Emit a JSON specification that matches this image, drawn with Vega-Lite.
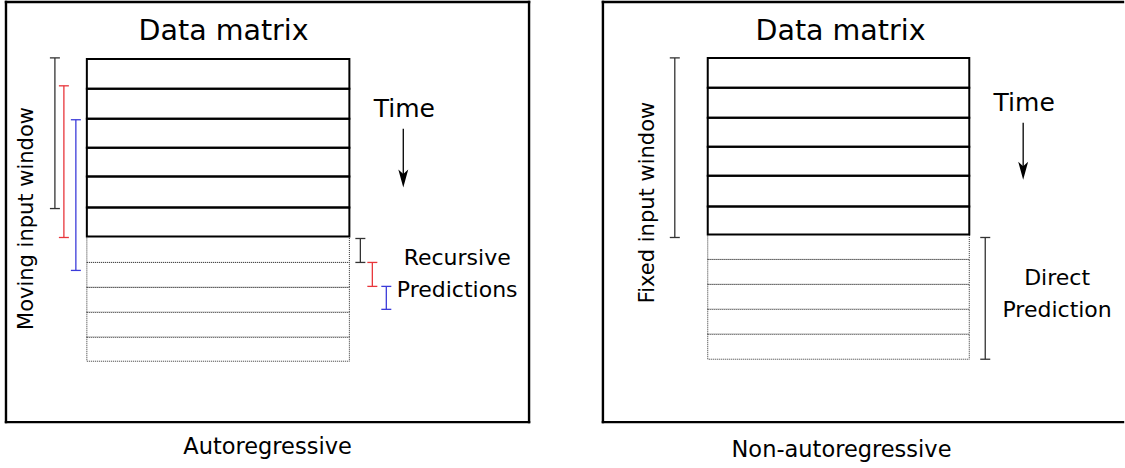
{
  "$schema": "https://vega.github.io/schema/vega-lite/v6.json",
  "width": 1125,
  "height": 468,
  "autosize": {"type": "fit", "contains": "padding"},
  "padding": 0,
  "background": "white",
  "config": {"view": {"stroke": null}, "text": {"font": "DejaVu Sans"}},
  "datasets": {
    "frameEdges": [
      {"x": 6, "x2": 530, "y": 1, "y2": 1},
      {"x": 6, "x2": 530, "y": 422, "y2": 422},
      {"x": 6, "x2": 6, "y": 1, "y2": 422},
      {"x": 530, "x2": 530, "y": 1, "y2": 422},
      {"x": 604, "x2": 1125, "y": 1, "y2": 1},
      {"x": 604, "x2": 1125, "y": 422, "y2": 422},
      {"x": 604, "x2": 604, "y": 1, "y2": 422}
    ],
    "solidRows": [
      {"x": 87, "x2": 350, "y": 58, "y2": 88},
      {"x": 87, "x2": 350, "y": 88, "y2": 118},
      {"x": 87, "x2": 350, "y": 118, "y2": 147},
      {"x": 87, "x2": 350, "y": 147, "y2": 176},
      {"x": 87, "x2": 350, "y": 176, "y2": 207},
      {"x": 87, "x2": 350, "y": 207, "y2": 236},
      {"x": 709, "x2": 971, "y": 57, "y2": 87},
      {"x": 709, "x2": 971, "y": 87, "y2": 117},
      {"x": 709, "x2": 971, "y": 117, "y2": 146},
      {"x": 709, "x2": 971, "y": 146, "y2": 175},
      {"x": 709, "x2": 971, "y": 175, "y2": 206},
      {"x": 709, "x2": 971, "y": 206, "y2": 234}
    ],
    "dottedRows": [
      {"x": 87, "x2": 350, "y": 236, "y2": 262},
      {"x": 87, "x2": 350, "y": 262, "y2": 287},
      {"x": 87, "x2": 350, "y": 287, "y2": 312},
      {"x": 87, "x2": 350, "y": 312, "y2": 337},
      {"x": 87, "x2": 350, "y": 337, "y2": 361},
      {"x": 709, "x2": 971, "y": 234, "y2": 259},
      {"x": 709, "x2": 971, "y": 259, "y2": 284},
      {"x": 709, "x2": 971, "y": 284, "y2": 309},
      {"x": 709, "x2": 971, "y": 309, "y2": 334},
      {"x": 709, "x2": 971, "y": 334, "y2": 359}
    ],
    "brackets": [
      {"x": 55, "y": 57, "y2": 208, "group": "black"},
      {"x": 64, "y": 85, "y2": 237, "group": "red"},
      {"x": 76, "y": 119, "y2": 270, "group": "blue"},
      {"x": 361, "y": 238, "y2": 262, "group": "black"},
      {"x": 373, "y": 262, "y2": 286, "group": "red"},
      {"x": 387, "y": 286, "y2": 309, "group": "blue"},
      {"x": 676, "y": 57, "y2": 237, "group": "black"},
      {"x": 987, "y": 237, "y2": 359, "group": "black"}
    ],
    "arrows": [
      {"x": 404, "y": 128, "y2": 180, "head": 178},
      {"x": 1025, "y": 122, "y2": 172, "head": 170}
    ],
    "titles": [
      {"x": 224, "y": 30, "label": "Data matrix"},
      {"x": 842, "y": 30, "label": "Data matrix"}
    ],
    "times": [
      {"x": 405, "y": 108, "label": "Time"},
      {"x": 1026, "y": 102, "label": "Time"}
    ],
    "labels": [
      {"x": 458, "y": 258, "label": "Recursive"},
      {"x": 458, "y": 290, "label": "Predictions"},
      {"x": 1059, "y": 278, "label": "Direct"},
      {"x": 1059, "y": 310, "label": "Prediction"}
    ],
    "vertical": [
      {"x": 27, "y": 218, "label": "Moving input window"},
      {"x": 649, "y": 202, "label": "Fixed input window"}
    ],
    "captions": [
      {"x": 268, "y": 447, "label": "Autoregressive"},
      {"x": 843, "y": 450, "label": "Non-autoregressive"}
    ]
  },
  "layer": [
    {
      "data": {"name": "frameEdges"},
      "mark": {"type": "rule", "stroke": "black", "strokeWidth": 2.4, "strokeCap": "square"},
      "encoding": {
        "x": {"field": "x", "type": "quantitative", "scale": {"domain": [0, 1125], "nice": false, "zero": false}, "axis": null},
        "x2": {"field": "x2"},
        "y": {"field": "y", "type": "quantitative", "scale": {"domain": [0, 468], "nice": false, "zero": false, "reverse": true}, "axis": null},
        "y2": {"field": "y2"}
      }
    },
    {
      "data": {"name": "dottedRows"},
      "mark": {"type": "rect", "fill": "white", "stroke": "#333333", "strokeWidth": 1, "strokeDash": [1, 1]},
      "encoding": {
        "x": {"field": "x", "type": "quantitative", "scale": {"domain": [0, 1125], "nice": false, "zero": false}, "axis": null},
        "x2": {"field": "x2"},
        "y": {"field": "y", "type": "quantitative", "scale": {"domain": [0, 468], "nice": false, "zero": false, "reverse": true}, "axis": null},
        "y2": {"field": "y2"}
      }
    },
    {
      "data": {"name": "solidRows"},
      "mark": {"type": "rect", "fill": null, "stroke": "black", "strokeWidth": 2},
      "encoding": {
        "x": {"field": "x", "type": "quantitative", "scale": {"domain": [0, 1125], "nice": false, "zero": false}, "axis": null},
        "x2": {"field": "x2"},
        "y": {"field": "y", "type": "quantitative", "scale": {"domain": [0, 468], "nice": false, "zero": false, "reverse": true}, "axis": null},
        "y2": {"field": "y2"}
      }
    },
    {
      "data": {"name": "brackets"},
      "mark": {"type": "rule", "strokeWidth": 1.3},
      "encoding": {
        "x": {"field": "x", "type": "quantitative", "scale": {"domain": [0, 1125], "nice": false, "zero": false}, "axis": null},
        "y": {"field": "y", "type": "quantitative", "scale": {"domain": [0, 468], "nice": false, "zero": false, "reverse": true}, "axis": null},
        "y2": {"field": "y2"},
        "color": {"field": "group", "type": "nominal", "scale": {"domain": ["black", "red", "blue"], "range": ["#333333", "#e8363b", "#3b3bd9"]}, "legend": null}
      }
    },
    {
      "data": {"name": "brackets"},
      "mark": {"type": "tick", "orient": "horizontal", "size": 10, "thickness": 1.3, "opacity": 1},
      "encoding": {
        "x": {"field": "x", "type": "quantitative", "scale": {"domain": [0, 1125], "nice": false, "zero": false}, "axis": null},
        "y": {"field": "y", "type": "quantitative", "scale": {"domain": [0, 468], "nice": false, "zero": false, "reverse": true}, "axis": null},
        "color": {"field": "group", "type": "nominal", "scale": {"domain": ["black", "red", "blue"], "range": ["#333333", "#e8363b", "#3b3bd9"]}, "legend": null}
      }
    },
    {
      "data": {"name": "brackets"},
      "mark": {"type": "tick", "orient": "horizontal", "size": 10, "thickness": 1.3, "opacity": 1},
      "encoding": {
        "x": {"field": "x", "type": "quantitative", "scale": {"domain": [0, 1125], "nice": false, "zero": false}, "axis": null},
        "y": {"field": "y2", "type": "quantitative", "scale": {"domain": [0, 468], "nice": false, "zero": false, "reverse": true}, "axis": null},
        "color": {"field": "group", "type": "nominal", "scale": {"domain": ["black", "red", "blue"], "range": ["#333333", "#e8363b", "#3b3bd9"]}, "legend": null}
      }
    },
    {
      "data": {"name": "arrows"},
      "mark": {"type": "rule", "stroke": "black", "strokeWidth": 1.3},
      "encoding": {
        "x": {"field": "x", "type": "quantitative", "scale": {"domain": [0, 1125], "nice": false, "zero": false}, "axis": null},
        "y": {"field": "y", "type": "quantitative", "scale": {"domain": [0, 468], "nice": false, "zero": false, "reverse": true}, "axis": null},
        "y2": {"field": "y2"}
      }
    },
    {
      "data": {"name": "arrows"},
      "mark": {"type": "point", "shape": "M0,1 L-0.55,-1 L0,-0.5 L0.55,-1 Z", "size": 324, "filled": true, "fill": "black", "stroke": null, "opacity": 1},
      "encoding": {
        "x": {"field": "x", "type": "quantitative", "scale": {"domain": [0, 1125], "nice": false, "zero": false}, "axis": null},
        "y": {"field": "head", "type": "quantitative", "scale": {"domain": [0, 468], "nice": false, "zero": false, "reverse": true}, "axis": null}
      }
    },
    {
      "data": {"name": "titles"},
      "mark": {"type": "text", "fontSize": 28.5, "align": "center", "baseline": "middle", "color": "black"},
      "encoding": {
        "x": {"field": "x", "type": "quantitative", "scale": {"domain": [0, 1125], "nice": false, "zero": false}, "axis": null},
        "y": {"field": "y", "type": "quantitative", "scale": {"domain": [0, 468], "nice": false, "zero": false, "reverse": true}, "axis": null},
        "text": {"field": "label"}
      }
    },
    {
      "data": {"name": "times"},
      "mark": {"type": "text", "fontSize": 25, "align": "center", "baseline": "middle", "color": "black"},
      "encoding": {
        "x": {"field": "x", "type": "quantitative", "scale": {"domain": [0, 1125], "nice": false, "zero": false}, "axis": null},
        "y": {"field": "y", "type": "quantitative", "scale": {"domain": [0, 468], "nice": false, "zero": false, "reverse": true}, "axis": null},
        "text": {"field": "label"}
      }
    },
    {
      "data": {"name": "labels"},
      "mark": {"type": "text", "fontSize": 22, "align": "center", "baseline": "middle", "color": "black"},
      "encoding": {
        "x": {"field": "x", "type": "quantitative", "scale": {"domain": [0, 1125], "nice": false, "zero": false}, "axis": null},
        "y": {"field": "y", "type": "quantitative", "scale": {"domain": [0, 468], "nice": false, "zero": false, "reverse": true}, "axis": null},
        "text": {"field": "label"}
      }
    },
    {
      "data": {"name": "vertical"},
      "mark": {"type": "text", "fontSize": 21, "angle": 270, "align": "center", "baseline": "middle", "color": "black"},
      "encoding": {
        "x": {"field": "x", "type": "quantitative", "scale": {"domain": [0, 1125], "nice": false, "zero": false}, "axis": null},
        "y": {"field": "y", "type": "quantitative", "scale": {"domain": [0, 468], "nice": false, "zero": false, "reverse": true}, "axis": null},
        "text": {"field": "label"}
      }
    },
    {
      "data": {"name": "captions"},
      "mark": {"type": "text", "fontSize": 22.5, "align": "center", "baseline": "middle", "color": "black"},
      "encoding": {
        "x": {"field": "x", "type": "quantitative", "scale": {"domain": [0, 1125], "nice": false, "zero": false}, "axis": null},
        "y": {"field": "y", "type": "quantitative", "scale": {"domain": [0, 468], "nice": false, "zero": false, "reverse": true}, "axis": null},
        "text": {"field": "label"}
      }
    }
  ]
}
